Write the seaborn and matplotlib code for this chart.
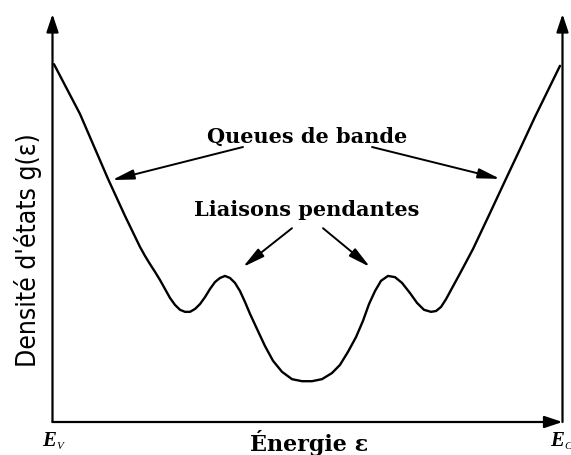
import matplotlib
matplotlib.use("Agg")
import matplotlib.pyplot as plt
import seaborn as sns
import pandas as pd

# Density of states of an amorphous semiconductor between E_V and E_C
energy = [0.29, 5.39, 10.88, 14.22, 17.16, 18.14, 19.12, 20.10, 21.08, 22.06,
          23.04, 24.02, 25.00, 25.98, 26.96, 27.94, 28.92, 29.90, 30.88, 31.86,
          32.84, 33.82, 34.80, 35.78, 36.76, 37.75, 38.73, 40.10, 41.67, 43.24,
          45.00, 46.96, 48.92, 50.88, 52.84, 54.80, 56.37, 57.94, 59.51, 60.88,
          62.06, 63.24, 64.41, 65.78, 67.16, 68.53, 70.10, 71.47, 72.84, 74.22,
          75.20, 76.18, 77.16, 78.33, 79.51, 80.88, 82.45, 85.59, 88.73, 91.67,
          94.61, 99.51]
density = [87.7, 75.5, 59.6, 50.5, 42.9, 40.7, 38.7, 36.8, 34.8, 32.6,
           30.4, 28.7, 27.5, 27.0, 27.0, 27.7, 28.9, 30.6, 32.6, 34.3,
           35.3, 35.8, 35.3, 34.1, 32.1, 29.4, 26.5, 22.8, 18.6, 15.0,
           12.3, 10.5, 10.0, 10.0, 10.5, 12.0, 14.0, 17.2, 20.8, 24.8,
           28.9, 32.1, 34.6, 35.8, 35.5, 34.1, 31.6, 29.2, 27.5, 27.0,
           27.2, 28.2, 30.1, 32.8, 35.5, 38.7, 42.4, 50.7, 59.1, 66.9,
           74.8, 87.3]

# Annotations: label, label position, arrow tails and arrow tips
labels = ["Queues de bande", "Liaisons pendantes"]
label_xy = [(50.0, 70.1), (49.9, 52.2)]
arrow_tails = [[(37.35, 67.4), (62.65, 67.4)], [(46.96, 47.5), (53.04, 47.5)]]
arrow_tips = [[(11.67, 59.3), (87.75, 59.6)], [(37.35, 38.0), (62.25, 38.0)]]

x_label = "Énergie ε"
y_label = "Densité d'états g(ε)"
edge_labels = [("E", "V"), ("E", "C")]

sns.set_style("white")
plt.rcParams["font.family"] = ["DejaVu Serif", "DejaVu Sans"]
plt.rcParams["text.color"] = "black"

fig = plt.figure(figsize=(5.71, 4.56), dpi=100)
W, H = 571, 456
ax = fig.add_axes([52.5 / W, (H - 423) / H, (562.5 - 52.5) / W, (423 - 15) / H])

df = pd.DataFrame({"energy": energy, "density": density})
sns.lineplot(data=df, x="energy", y="density", ax=ax, color="black",
             linewidth=1.7, sort=False, estimator=None)

ax.set_xlim(0, 100)
ax.set_ylim(0, 100)
ax.set_xticks([])
ax.set_yticks([])
ax.set_xlabel("")
ax.set_ylabel("")
for s in ax.spines.values():
    s.set_visible(False)

# Axes drawn as arrows: left and right verticals, bottom horizontal
axis_style = "-|>,head_length=0.9,head_width=0.3"
for start, end in [((0, 0), (0, 1.0)), ((1, 0), (1, 1.0)), ((0, 0), (1, 0))]:
    ax.annotate("", xy=end, xytext=start, xycoords="axes fraction",
                textcoords="axes fraction", annotation_clip=False,
                arrowprops=dict(arrowstyle=axis_style, color="black", lw=1.6,
                                shrinkA=0, shrinkB=0, mutation_scale=12))

pointer_style = "-|>,head_length=1.1,head_width=0.25"
for text, xy, tails, tips in zip(labels, label_xy, arrow_tails, arrow_tips):
    ax.text(xy[0], xy[1], text, ha="center", va="center", fontsize=15,
            fontweight="bold", family="DejaVu Serif", color="black")
    for t0, t1 in zip(tails, tips):
        ax.annotate("", xy=t1, xytext=t0,
                    arrowprops=dict(arrowstyle=pointer_style, color="black",
                                    lw=1.4, shrinkA=0, shrinkB=0,
                                    mutation_scale=12))

fig.text(309 / W, 1 - 443 / H, x_label, ha="center", va="center",
         fontsize=16, fontweight="bold", family="DejaVu Serif", color="black")
fig.text(28 / W, 1 - 250 / H, y_label, rotation=90, ha="center", va="center",
         fontsize=19, fontstretch="condensed", family="DejaVu Sans",
         color="black")

for (main, sub), xc in zip(edge_labels, [49, 557]):
    fig.text(xc / W, 1 - 441 / H, main, ha="center", va="center",
             fontsize=15, fontweight="bold", fontstyle="italic",
             family="Liberation Serif", color="black")
    fig.text((xc + 11) / W, 1 - 447 / H, sub, ha="center", va="center",
             fontsize=8, fontstyle="italic", family="Liberation Serif",
             color="black")

fig.savefig("out.png", dpi=100, facecolor="white")
